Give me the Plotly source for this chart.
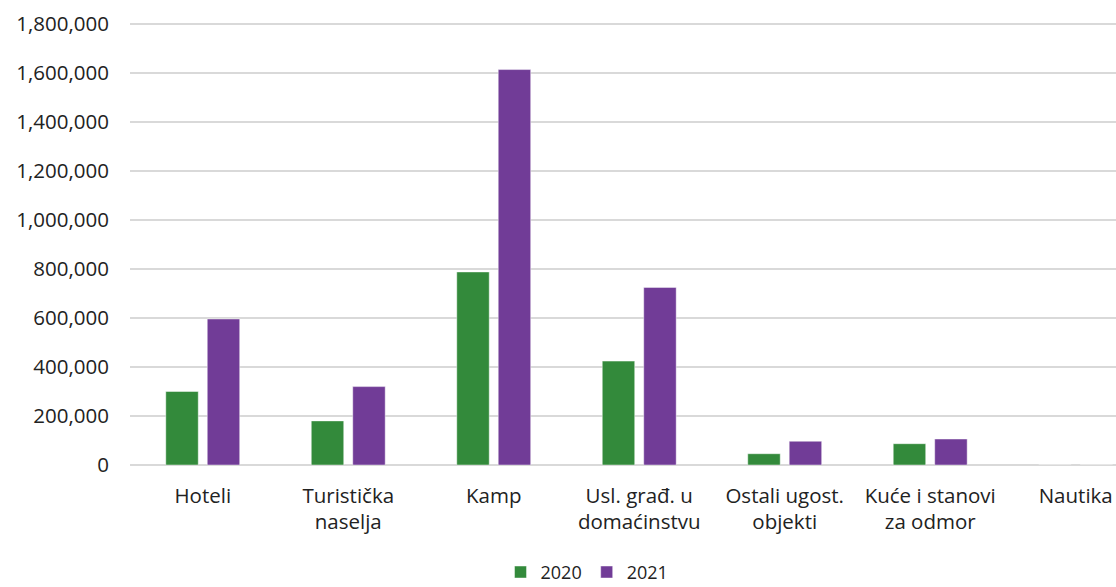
import plotly.graph_objects as go

categories = ["Hoteli", "Turistička<br>naselja", "Kamp", "Usl. građ. u<br>domaćinstvu",
              "Ostali ugost.<br>objekti", "Kuće i stanovi<br>za odmor", "Nautika"]
values_2020 = [300000, 180000, 788000, 424000, 46000, 87000, 0]
values_2021 = [596000, 320000, 1614000, 725000, 97000, 106000, 0]
y_ticks = [0, 200000, 400000, 600000, 800000, 1000000, 1200000, 1400000, 1600000, 1800000]

GREEN = "#338A3B"
PURPLE = "#713C97"
FONT = "Open Sans"
TXT = "#222222"

W, H = 1116, 587
T, B = 22, 122
px_per_unit = 441 / 1800000
y_top = (H - B - T) / px_per_unit

fig = go.Figure()
fig.add_trace(go.Bar(name="2020", x=list(range(len(categories))), y=values_2020,
                     marker=dict(color=GREEN, line=dict(color="rgba(255,255,255,0.45)", width=1))))
fig.add_trace(go.Bar(name="2021", x=list(range(len(categories))), y=values_2021,
                     marker=dict(color=PURPLE, line=dict(color="rgba(255,255,255,0.45)", width=1))))

fig.update_layout(
    width=W, height=H,
    margin=dict(l=130, r=0, t=T, b=B),
    paper_bgcolor="white", plot_bgcolor="white",
    barmode="group", bargap=0.43, bargroupgap=0.217,
    font=dict(family=FONT, size=20, color=TXT),
    showlegend=True,
    legend=dict(orientation="h", x=0.526, xanchor="center", xref="container",
                y=0.025, yanchor="middle", yref="container",
                font=dict(family=FONT, size=18, color=TXT),
                itemwidth=30, traceorder="normal"),
    xaxis=dict(range=[-0.5, 6.277], tickmode="array",
               tickvals=list(range(len(categories))), ticktext=categories,
               showgrid=False, zeroline=False, showline=False,
               ticks="outside", ticklen=12, tickcolor="rgba(0,0,0,0)",
               ticklabeloverflow="allow",
               tickfont=dict(family=FONT, size=20.5, color=TXT)),
    yaxis=dict(range=[0, y_top], tickmode="array", tickvals=y_ticks,
               ticktext=[f"{v:,}" for v in y_ticks],
               showgrid=True, gridcolor="#d9d9d9", gridwidth=1.5,
               zeroline=True, zerolinecolor="#d9d9d9", zerolinewidth=1.5,
               showline=False, ticklabelstandoff=20,
               tickfont=dict(family=FONT, size=20.5, color=TXT)),
)

fig.write_html("out.html",
               config={"displayModeBar": False},
               post_script="document.body.style.margin='0';document.body.style.overflow='hidden';")
